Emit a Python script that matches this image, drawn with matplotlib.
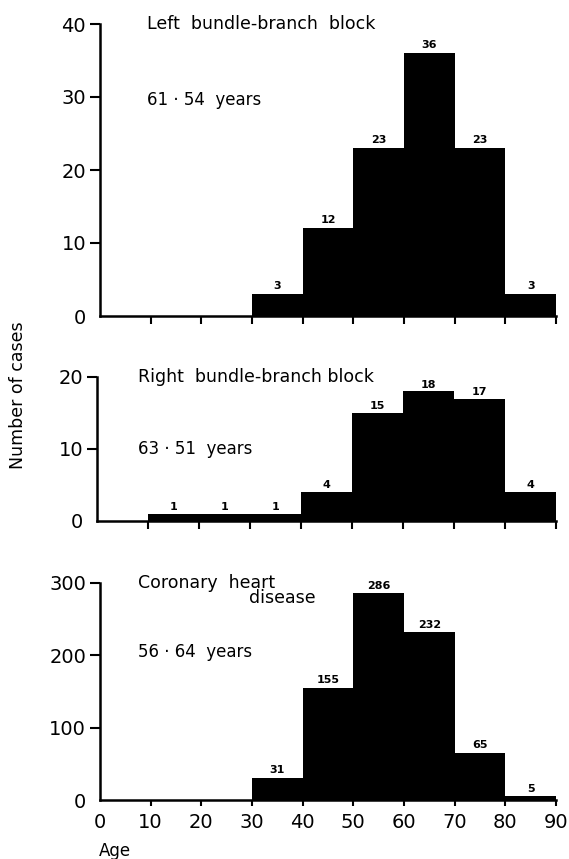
import matplotlib
matplotlib.use("Agg")
import matplotlib.pyplot as plt

bin_edges = [0, 10, 20, 30, 40, 50, 60, 70, 80, 90]
x_ticks = [0, 10, 20, 30, 40, 50, 60, 70, 80, 90]

lbbb_bins = [30, 40, 50, 60, 70, 80]
lbbb_counts = [3, 12, 23, 36, 23, 3]

rbbb_bins = [10, 20, 30, 40, 50, 60, 70, 80]
rbbb_counts = [1, 1, 1, 4, 15, 18, 17, 4]

chd_bins = [30, 40, 50, 60, 70, 80]
chd_counts = [31, 155, 286, 232, 65, 5]

panels = [
    dict(bins=lbbb_bins, counts=lbbb_counts, yticks=[0, 10, 20, 30, 40],
         title=["Left  bundle-branch  block"], mean="61 · 54  years"),
    dict(bins=rbbb_bins, counts=rbbb_counts, yticks=[0, 10, 20],
         title=["Right  bundle-branch block"], mean="63 · 51  years"),
    dict(bins=chd_bins, counts=chd_counts, yticks=[0, 100, 200, 300],
         title=["Coronary  heart", "disease"], mean="56 · 64  years"),
]

W, H = 569, 859
fig = plt.figure(figsize=(W / 100, H / 100), dpi=100)

def rect(x0, x1, y0, y1):
    return [x0 / W, 1 - y0 / H, (x1 - x0) / W, (y0 - y1) / H]

rects = [rect(100, 556, 316, 24), rect(97, 556, 521, 377), rect(100, 556, 800, 583)]
title_x = [9.2, 8.0, 7.5]
mean_y = [0.74, 0.5, 0.68]

for i, (p, r) in enumerate(zip(panels, rects)):
    ax = fig.add_axes(r)
    ax.bar(p["bins"], p["counts"], width=10, align="edge", color="black", linewidth=0)
    ymax = p["yticks"][-1]
    ax.set_xlim(0, 90)
    ax.set_ylim(0, ymax)
    for s in ["top", "right"]:
        ax.spines[s].set_visible(False)
    for s in ["left", "bottom"]:
        ax.spines[s].set_linewidth(1.8)
    ax.set_yticks(p["yticks"])
    ax.set_yticklabels([str(t) for t in p["yticks"]], fontsize=14)
    ax.tick_params(axis="y", length=7, width=1.5, pad=3)
    ax.set_xticks(x_ticks)
    if i < 2:
        ax.set_xticklabels([])
        ax.tick_params(axis="x", length=6, width=1.5)
    else:
        ax.set_xticklabels([str(t) for t in x_ticks], fontsize=14)
        ax.tick_params(axis="x", length=4, width=1.5, pad=5)
    ax.xaxis.get_major_ticks()[0].tick1line.set_visible(False)
    ax.yaxis.get_major_ticks()[0].tick1line.set_visible(False)
    for b, c in zip(p["bins"], p["counts"]):
        ax.text(b + 5, c + ymax * 0.012, str(c), ha="center", va="bottom",
                fontsize=8, fontweight="bold")
    if i == 2:
        ax.text(title_x[i], ymax, p["title"][0], ha="left", va="center", fontsize=12.5)
        ax.text(42.5, ymax * 0.93, p["title"][1], ha="right", va="center", fontsize=12.5)
    else:
        ax.text(title_x[i], ymax, p["title"][0], ha="left", va="center", fontsize=12.5)
    ax.text(title_x[i], ymax * mean_y[i], p["mean"], ha="left", va="center", fontsize=12)

fig.text(18 / W, 1 - 395 / H, "Number of cases", rotation=90, ha="center", va="center", fontsize=12.5)
fig.text(99 / W, 1 - 851 / H, "Age", ha="left", va="center", fontsize=12)

fig.savefig("out.png", dpi=100)
